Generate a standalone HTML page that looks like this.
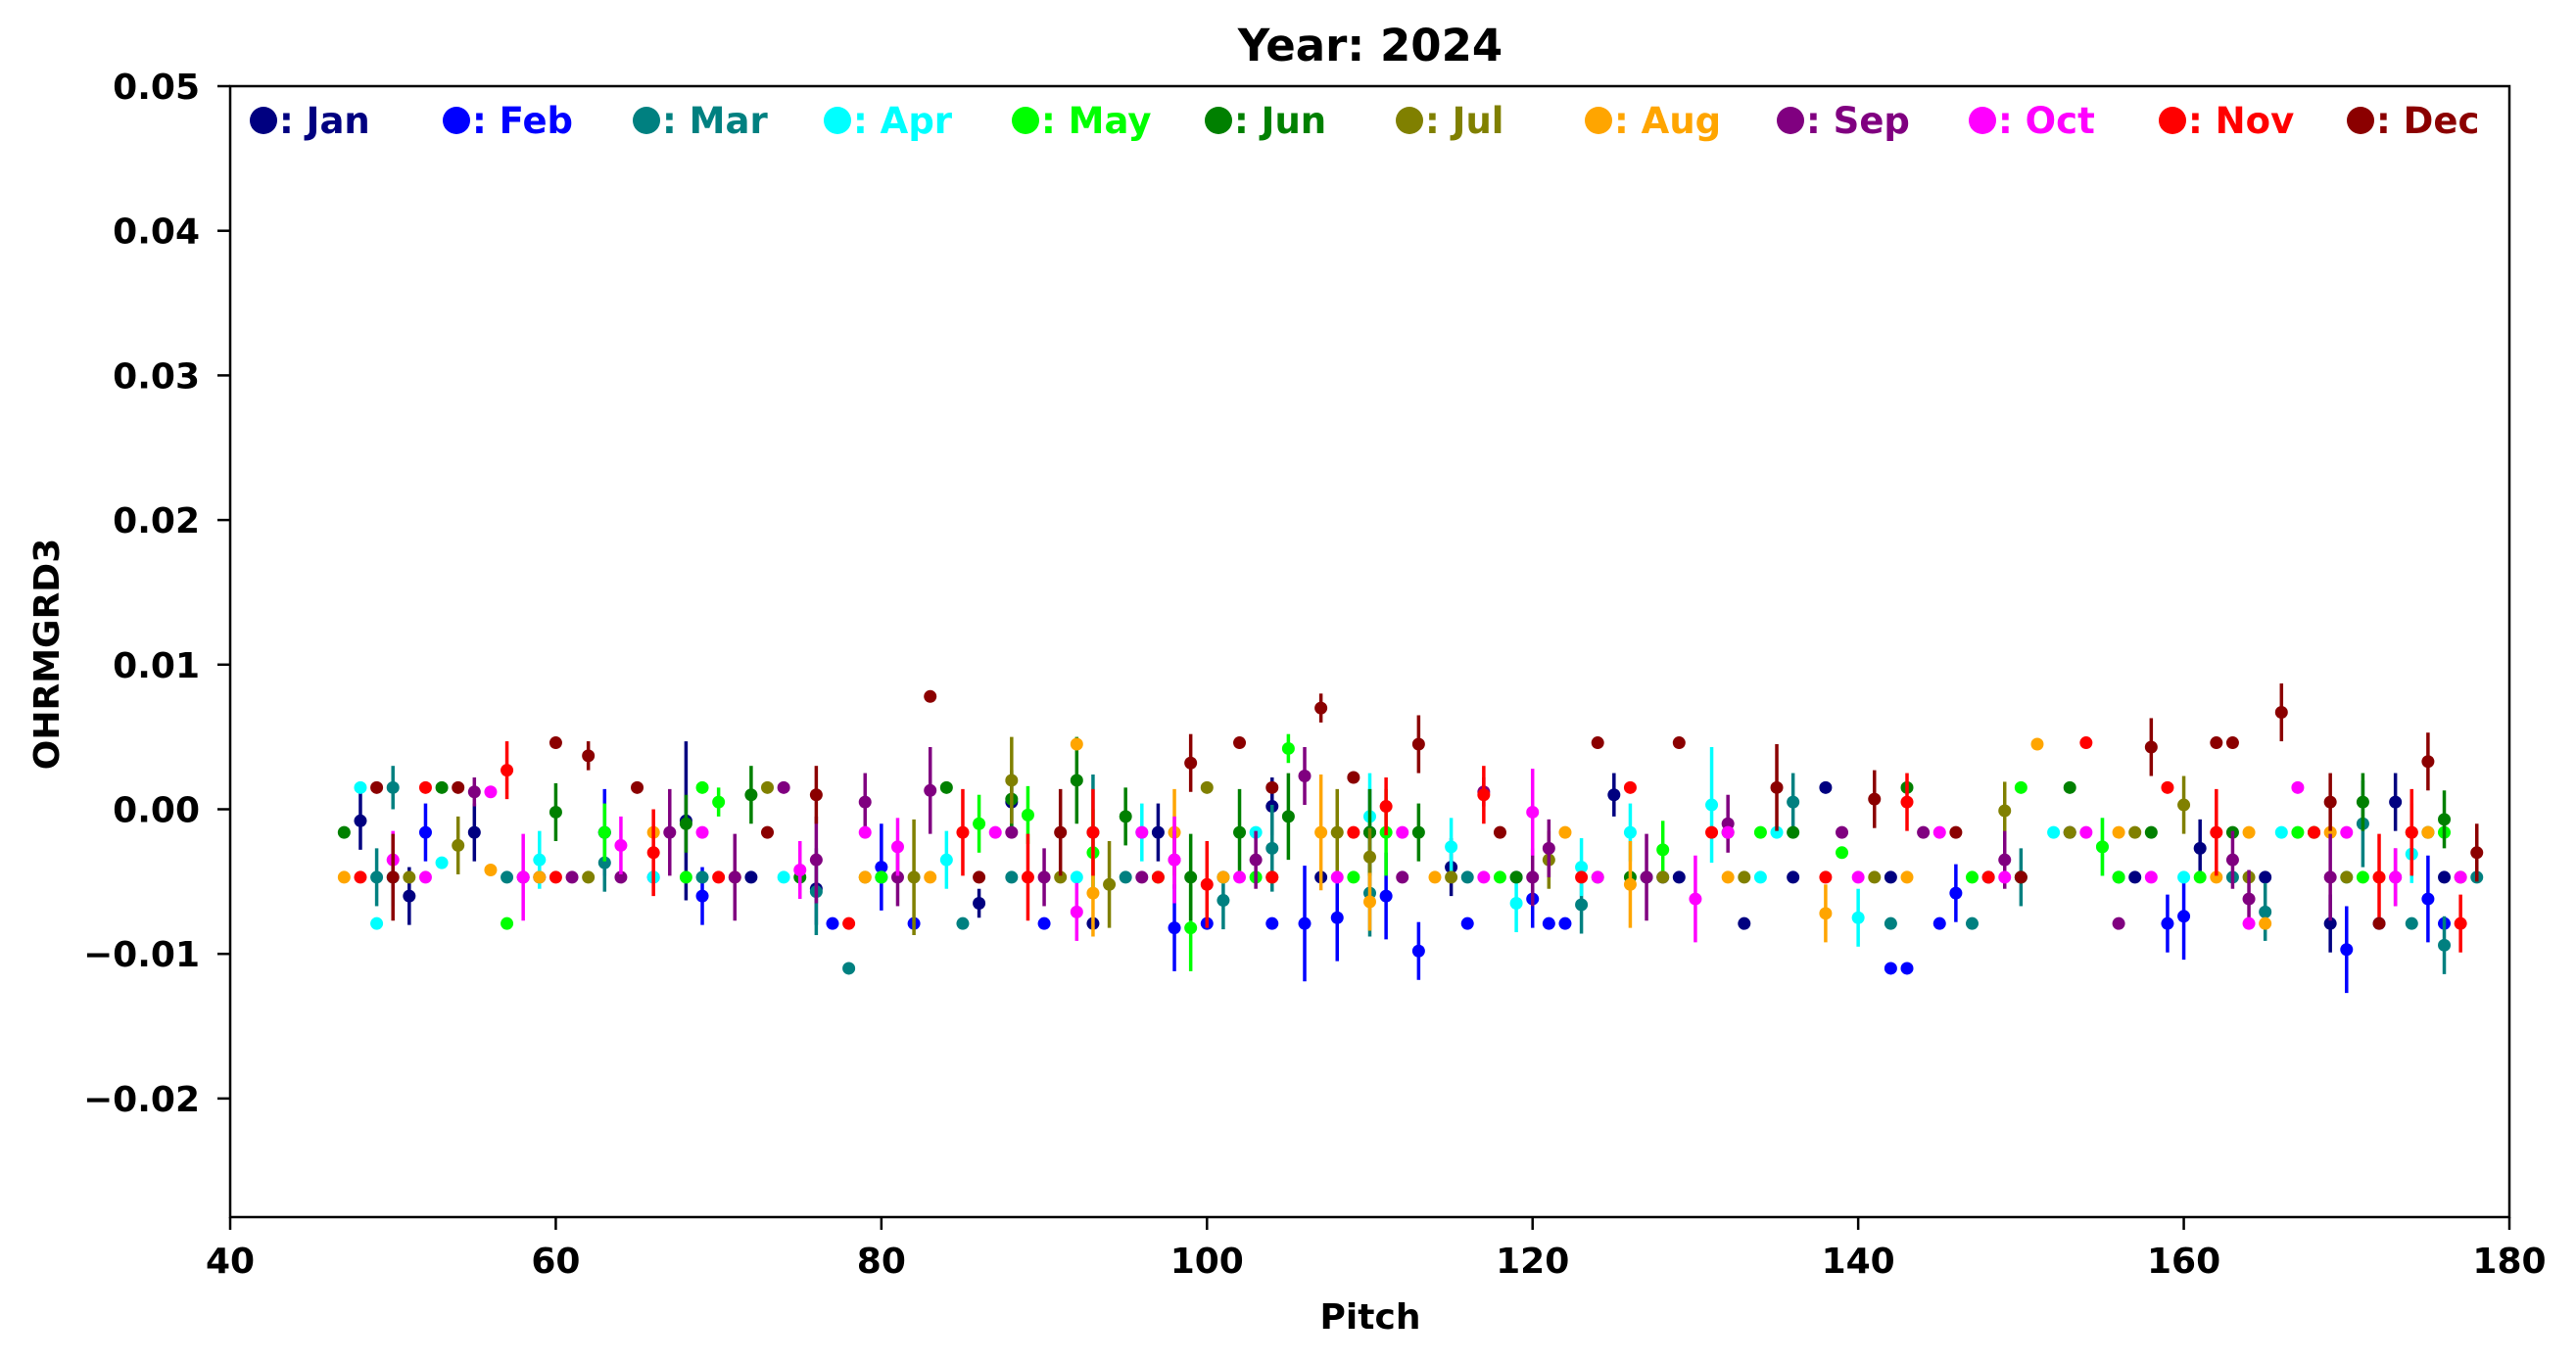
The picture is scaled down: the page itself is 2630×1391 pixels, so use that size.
<!DOCTYPE html>
<html><head><meta charset="utf-8">
<style>
html,body{margin:0;padding:0;background:#fff;}
svg{display:block;font-family:"DejaVu Sans","Liberation Sans",sans-serif;font-weight:bold;}
</style></head>
<body>
<svg id="chart" width="2630" height="1391" viewBox="0 0 2630 1391" xmlns="http://www.w3.org/2000/svg">
<rect x="0" y="0" width="2630" height="1391" fill="#fff"/>
<text x="1399" y="62" font-size="45" text-anchor="middle">Year: 2024</text>
<g id="marks"></g>
<g id="axes"></g>
<g id="legend"></g>
<text x="1399" y="1357" font-size="36" text-anchor="middle">Pitch</text>
<text x="60" y="668" font-size="36" text-anchor="middle" transform="rotate(-90 60 668)">OHRMGRD3</text>
</svg>
<script>
const xTicks=[40,60,80,100,120,140,160,180];
const yTicks=[-0.02,-0.01,0,0.01,0.02,0.03,0.04,0.05];
const yTickLabels=["\u22120.02","\u22120.01","0.00","0.01","0.02","0.03","0.04","0.05"];
const months=["Jan","Feb","Mar","Apr","May","Jun","Jul","Aug","Sep","Oct","Nov","Dec"];
const colors=["#000080","#0000ff","#008080","#00ffff","#00ff00","#008000","#808000","#ffa500","#800080","#ff00ff","#ff0000","#8b0000"];
// [pitch, value, err]
const janData=[[48,-0.0008,0.002],[51,-0.006,0.002],[55,-0.0016,0.002],[59,-0.0047,0],[63,-0.0016,0.002],[68,-0.0008,0.0055],[72,-0.0047,0],[76,-0.0055,0.0025],[80,-0.0047,0],[86,-0.0065,0.001],[88,0.0005,0.002],[93,-0.0079,0],[97,-0.0016,0.002],[101,-0.0047,0],[104,0.0002,0.002],[107,-0.0047,0],[110,-0.0016,0.003],[115,-0.004,0.002],[119,-0.0047,0],[125,0.001,0.0015],[129,-0.0047,0],[133,-0.0079,0],[136,-0.0047,0],[138,0.0015,0],[142,-0.0047,0],[148,-0.0047,0],[153,-0.0016,0],[157,-0.0047,0],[161,-0.0027,0.002],[165,-0.0047,0],[169,-0.0079,0.002],[173,0.0005,0.002],[176,-0.0047,0]];
const febData=[[52,-0.0016,0.002],[58,-0.0047,0],[63,-0.0016,0.003],[66,-0.0047,0],[69,-0.006,0.002],[77,-0.0079,0],[80,-0.004,0.003],[82,-0.0079,0],[90,-0.0079,0],[98,-0.0082,0.003],[100,-0.0079,0],[104,-0.0079,0],[106,-0.0079,0.004],[108,-0.0075,0.003],[111,-0.006,0.003],[113,-0.0098,0.002],[116,-0.0079,0],[121,-0.0079,0],[120,-0.0062,0.002],[122,-0.0079,0],[128,-0.0047,0],[142,-0.011,0],[143,-0.011,0],[145,-0.0079,0],[146,-0.0058,0.002],[159,-0.0079,0.002],[160,-0.0074,0.003],[170,-0.0097,0.003],[172,-0.0079,0],[175,-0.0062,0.003],[176,-0.0079,0]];
const marData=[[49,-0.0047,0.002],[50,0.0015,0.0015],[57,-0.0047,0],[63,-0.0037,0.002],[69,-0.0047,0],[76,-0.0057,0.003],[78,-0.011,0],[85,-0.0079,0],[88,-0.0047,0],[93,-0.0016,0.004],[95,-0.0047,0],[101,-0.0063,0.002],[104,-0.0027,0.003],[110,-0.0058,0.003],[116,-0.0047,0],[123,-0.0066,0.002],[127,-0.0047,0],[136,0.0005,0.002],[142,-0.0079,0],[147,-0.0079,0],[150,-0.0047,0.002],[156,-0.0047,0],[163,-0.0047,0],[165,-0.0071,0.002],[171,-0.001,0.003],[174,-0.0079,0],[176,-0.0094,0.002],[178,-0.0047,0]];
const aprData=[[48,0.0015,0],[49,-0.0079,0],[50,-0.0047,0.002],[53,-0.0037,0],[59,-0.0035,0.002],[66,-0.0047,0],[74,-0.0047,0],[80,-0.0047,0],[84,-0.0035,0.002],[92,-0.0047,0],[96,-0.0016,0.002],[101,-0.0047,0],[103,-0.0016,0],[110,-0.0005,0.003],[115,-0.0026,0.002],[119,-0.0065,0.002],[123,-0.004,0.002],[126,-0.0016,0.002],[131,0.0003,0.004],[134,-0.0047,0],[135,-0.0016,0],[140,-0.0075,0.002],[152,-0.0016,0],[155,-0.0026,0.002],[160,-0.0047,0],[166,-0.0016,0],[170,-0.0047,0],[174,-0.0031,0.002]];
const mayData=[[57,-0.0079,0],[63,-0.0016,0.002],[68,-0.0047,0],[69,0.0015,0],[70,0.0005,0.001],[80,-0.0047,0],[86,-0.001,0.002],[89,-0.0004,0.002],[93,-0.003,0.003],[97,-0.0047,0],[99,-0.0082,0.003],[103,-0.0047,0],[105,0.0042,0.001],[109,-0.0047,0],[111,-0.0016,0.003],[118,-0.0047,0],[124,-0.0047,0],[128,-0.0028,0.002],[134,-0.0016,0],[139,-0.003,0],[147,-0.0047,0],[150,0.0015,0],[155,-0.0026,0.002],[156,-0.0047,0],[161,-0.0047,0],[167,-0.0016,0],[171,-0.0047,0],[176,-0.0016,0]];
const junData=[[47,-0.0016,0],[53,0.0015,0],[60,-0.0002,0.002],[68,-0.001,0.002],[72,0.001,0.002],[75,-0.0047,0],[84,0.0015,0],[88,0.0007,0.002],[92,0.002,0.003],[95,-0.0005,0.002],[99,-0.0047,0.003],[102,-0.0016,0.003],[105,-0.0005,0.003],[110,-0.0016,0.003],[113,-0.0016,0.002],[119,-0.0047,0],[126,-0.0047,0],[132,-0.0016,0],[136,-0.0016,0],[143,0.0015,0],[150,-0.0047,0],[153,0.0015,0],[158,-0.0016,0],[163,-0.0016,0],[168,-0.0016,0],[171,0.0005,0.002],[175,-0.0016,0],[176,-0.0007,0.002]];
const julData=[[51,-0.0047,0],[54,-0.0025,0.002],[58,-0.0047,0],[62,-0.0047,0],[73,0.0015,0],[79,-0.0047,0],[82,-0.0047,0.004],[88,0.002,0.003],[91,-0.0047,0],[94,-0.0052,0.003],[100,0.0015,0],[104,-0.0047,0],[108,-0.0016,0.003],[110,-0.0033,0.002],[115,-0.0047,0],[121,-0.0035,0.002],[128,-0.0047,0],[133,-0.0047,0],[141,-0.0047,0],[149,-0.0001,0.002],[153,-0.0016,0],[157,-0.0016,0],[160,0.0003,0.002],[164,-0.0047,0],[168,-0.0016,0],[170,-0.0047,0],[174,-0.0016,0.002],[177,-0.0047,0]];
const augData=[[47,-0.0047,0],[56,-0.0042,0],[59,-0.0047,0],[66,-0.0016,0],[71,-0.0047,0],[79,-0.0047,0],[83,-0.0047,0],[92,0.0045,0],[93,-0.0058,0.003],[98,-0.0016,0.003],[101,-0.0047,0],[107,-0.0016,0.004],[110,-0.0064,0.002],[114,-0.0047,0],[122,-0.0016,0],[126,-0.0052,0.003],[132,-0.0047,0],[138,-0.0072,0.002],[143,-0.0047,0],[151,0.0045,0],[156,-0.0016,0],[162,-0.0047,0],[164,-0.0016,0],[165,-0.0079,0],[169,-0.0016,0],[172,-0.0047,0],[175,-0.0016,0]];
const sepData=[[55,0.0012,0.001],[61,-0.0047,0],[64,-0.0047,0],[67,-0.0016,0.003],[71,-0.0047,0.003],[74,0.0015,0],[76,-0.0035,0.003],[79,0.0005,0.002],[81,-0.0047,0.002],[83,0.0013,0.003],[88,-0.0016,0],[90,-0.0047,0.002],[96,-0.0047,0],[98,-0.0035,0.002],[103,-0.0035,0.002],[106,0.0023,0.002],[112,-0.0047,0],[117,0.0012,0.001],[120,-0.0047,0.002],[121,-0.0027,0.002],[127,-0.0047,0.003],[132,-0.001,0.002],[139,-0.0016,0],[144,-0.0016,0],[149,-0.0035,0.002],[156,-0.0079,0],[163,-0.0035,0.002],[164,-0.0062,0.002],[169,-0.0047,0.003],[173,-0.0047,0.002]];
const octData=[[50,-0.0035,0.002],[52,-0.0047,0],[56,0.0012,0],[58,-0.0047,0.003],[64,-0.0025,0.002],[69,-0.0016,0],[75,-0.0042,0.002],[79,-0.0016,0],[81,-0.0026,0.002],[87,-0.0016,0],[92,-0.0071,0.002],[96,-0.0016,0],[98,-0.0035,0.003],[102,-0.0047,0],[108,-0.0047,0],[112,-0.0016,0],[117,-0.0047,0],[120,-0.0002,0.003],[124,-0.0047,0],[130,-0.0062,0.003],[132,-0.0016,0],[140,-0.0047,0],[145,-0.0016,0],[149,-0.0047,0],[154,-0.0016,0],[158,-0.0047,0],[164,-0.0079,0],[167,0.0015,0],[170,-0.0016,0],[173,-0.0047,0.002],[177,-0.0047,0]];
const novData=[[48,-0.0047,0],[52,0.0015,0],[57,0.0027,0.002],[60,-0.0047,0],[66,-0.003,0.003],[70,-0.0047,0],[78,-0.0079,0],[85,-0.0016,0.003],[89,-0.0047,0.003],[93,-0.0016,0.003],[97,-0.0047,0],[100,-0.0052,0.003],[104,-0.0047,0],[109,-0.0016,0],[111,0.0002,0.002],[117,0.001,0.002],[123,-0.0047,0],[126,0.0015,0],[131,-0.0016,0],[138,-0.0047,0],[143,0.0005,0.002],[148,-0.0047,0],[154,0.0046,0],[159,0.0015,0],[162,-0.0016,0.003],[168,-0.0016,0],[172,-0.0047,0.003],[174,-0.0016,0.003],[177,-0.0079,0.002]];
const decData=[[49,0.0015,0],[50,-0.0047,0.003],[54,0.0015,0],[60,0.0046,0],[62,0.0037,0.001],[65,0.0015,0],[73,-0.0016,0],[76,0.001,0.002],[83,0.0078,0],[86,-0.0047,0],[91,-0.0016,0.003],[99,0.0032,0.002],[102,0.0046,0],[104,0.0015,0],[107,0.007,0.001],[109,0.0022,0],[113,0.0045,0.002],[118,-0.0016,0],[124,0.0046,0],[129,0.0046,0],[135,0.0015,0.003],[141,0.0007,0.002],[146,-0.0016,0],[150,-0.0047,0],[158,0.0043,0.002],[162,0.0046,0],[163,0.0046,0],[166,0.0067,0.002],[169,0.0005,0.002],[172,-0.0079,0],[175,0.0033,0.002],[178,-0.003,0.002]];
const allData=[janData,febData,marData,aprData,mayData,junData,julData,augData,sepData,octData,novData,decData];

const X0=235,X1=2562,Y0=88,Y1=1243,XMIN=40,XMAX=180,YMIN=-0.0282,YMAX=0.05;
function xs(v){return X0+(v-XMIN)/(XMAX-XMIN)*(X1-X0);}
function ys(v){return Y0+(YMAX-v)/(YMAX-YMIN)*(Y1-Y0);}
const NS="http://www.w3.org/2000/svg";
function mk(tag,attrs,parent){const e=document.createElementNS(NS,tag);for(const k in attrs)e.setAttribute(k,attrs[k]);parent.appendChild(e);return e;}

const marks=document.getElementById('marks');
allData.forEach((arr,mi)=>{
  const g=mk('g',{},marks);
  
  
  arr.forEach(d=>{
    if(d[2]>0){
      const l=mk('line',{x1:xs(d[0]),x2:xs(d[0]),y1:ys(d[1]-d[2]),y2:ys(d[1]+d[2]),stroke:colors[mi],'stroke-width':3.5},g);
      
      
    }
    const c=mk('circle',{cx:xs(d[0]),cy:ys(d[1]),r:6.5,fill:colors[mi]},g);
    
    
  });
});

const axes=document.getElementById('axes');
const frame=mk('rect',{x:X0,y:Y0,width:X1-X0,height:Y1-Y0,fill:'none',stroke:'#000','stroke-width':2.5},axes);


xTicks.forEach(t=>{
  const x=xs(t);
  mk('line',{x1:x,x2:x,y1:Y1,y2:Y1+13,stroke:'#000','stroke-width':2.5},axes);
  const tx=mk('text',{x:x,y:Y1+57,'font-size':36,'text-anchor':'middle'},axes);
  tx.textContent=t;
  
  
});
yTicks.forEach((t,i)=>{
  const y=ys(t);
  mk('line',{x1:X0-13,x2:X0,y1:y,y2:y,stroke:'#000','stroke-width':2.5},axes);
  const tx=mk('text',{x:X0-31,y:y+13,'font-size':36,'text-anchor':'end'},axes);
  tx.textContent=yTickLabels[i];
  
  
});

const legend=document.getElementById('legend');
const legX=[269,466,660,855,1047,1244,1439,1632,1828,2024,2218,2410];
months.forEach((m,i)=>{
  const g=mk('g',{},legend);
  
  
  mk('circle',{cx:legX[i],cy:123,r:14,fill:colors[i]},g);
  const t=mk('text',{x:legX[i]+16,y:136,'font-size':37,fill:colors[i]},g);
  t.textContent=': '+m;
});
</script>
</body></html>
